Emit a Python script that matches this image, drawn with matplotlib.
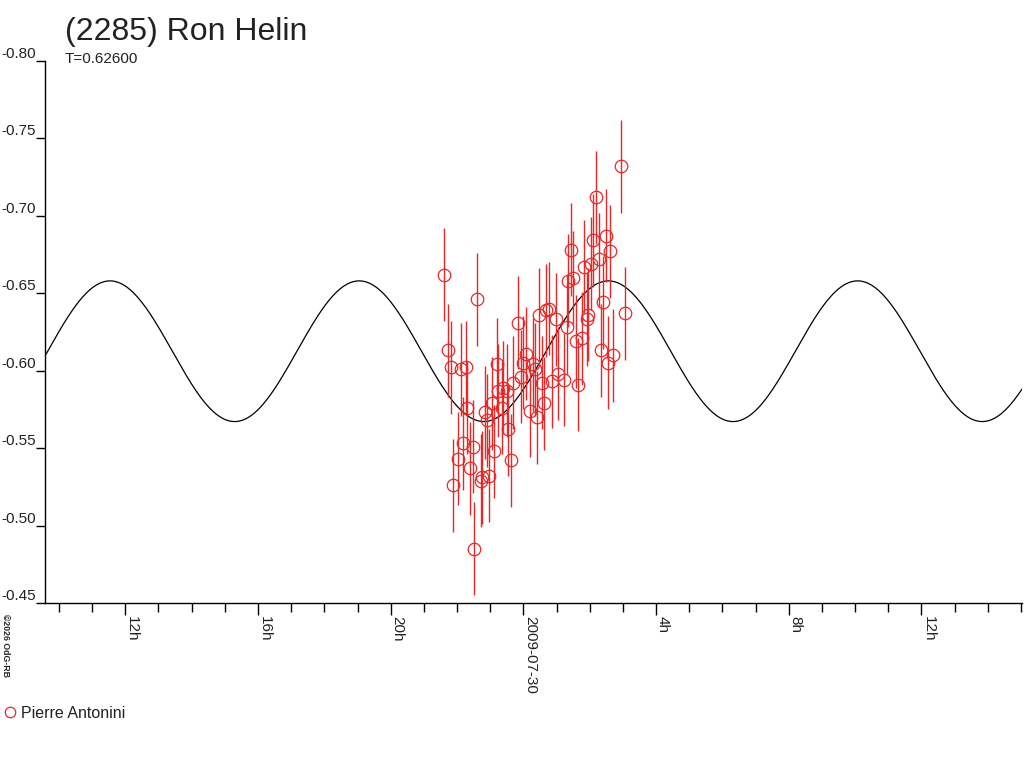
import numpy as np
import matplotlib
matplotlib.use("Agg")
import matplotlib.pyplot as plt
from matplotlib.ticker import FixedLocator, FixedFormatter, MultipleLocator
from matplotlib.lines import Line2D

plt.rcParams['font.family'] = ['Liberation Sans', 'DejaVu Sans']
plt.rcParams['axes.unicode_minus'] = False

# ---- data (hours relative to 2009-07-30 00:00 UT, relative magnitude) ----
obs_hours = [-2.394, -2.264, -2.192, -2.113, -1.981, -1.890, -1.812, -1.740, -1.691, -1.610,
             -1.528, -1.480, -1.390, -1.287, -1.239, -1.158, -1.097, -1.037, -0.956, -0.877,
             -0.787, -0.757, -0.654, -0.606, -0.485, -0.455, -0.374, -0.304, -0.154, -0.072,
             -0.003, 0.069, 0.199, 0.298, 0.350, 0.419, 0.479, 0.570, 0.621, 0.681,
             0.781, 0.853, 0.983, 1.052, 1.233, 1.305, 1.360, 1.444, 1.504, 1.586,
             1.655, 1.758, 1.827, 1.908, 1.957, 2.038, 2.107, 2.180, 2.279, 2.339,
             2.409, 2.490, 2.560, 2.611, 2.692, 2.942, 3.072]
obs_mag = [-0.662, -0.613, -0.602, -0.526, -0.543, -0.601, -0.553, -0.602, -0.576, -0.537,
           -0.551, -0.485, -0.646, -0.529, -0.531, -0.573, -0.568, -0.532, -0.579, -0.548,
           -0.604, -0.587, -0.576, -0.589, -0.587, -0.562, -0.542, -0.592, -0.631, -0.596,
           -0.605, -0.611, -0.574, -0.604, -0.601, -0.570, -0.636, -0.592, -0.579, -0.639,
           -0.640, -0.593, -0.633, -0.598, -0.594, -0.628, -0.658, -0.678, -0.660, -0.619,
           -0.591, -0.621, -0.667, -0.633, -0.636, -0.669, -0.684, -0.712, -0.672, -0.613,
           -0.644, -0.687, -0.605, -0.677, -0.610, -0.732, -0.637]
obs_err = [0.030] * len(obs_mag)

# fitted lightcurve model (T = 0.626 d, double-peaked -> half-period sine)
period_days = 0.62600
model_mean = -0.6125
model_amp = 0.0454
model_peak_hour = -12.46

x_major = [-12, -8, -4, 0, 4, 8, 12]
x_major_labels = ["12h", "16h", "20h", "2009-07-30", "4h", "8h", "12h"]
y_ticks = [-0.80, -0.75, -0.70, -0.65, -0.60, -0.55, -0.50, -0.45]
y_labels = ["-0.80", "-0.75", "-0.70", "-0.65", "-0.60", "-0.55", "-0.50", "-0.45"]
observer = "Pierre Antonini"

W, H = 1024, 768
fig = plt.figure(figsize=(W / 100, H / 100), dpi=100)
ax = fig.add_axes([45 / W, 1 - 603 / H, (1022 - 45) / W, (603 - 60.7) / H])

red = '#e62828'
txt = '#222222'
xmin, xmax = -14.42, 15.03
P = period_days * 24 / 2
tt = np.linspace(xmin, xmax, 1500)
curve = model_mean - model_amp * np.cos(2 * np.pi * (tt - model_peak_hour) / P)
ax.plot(tt, curve, color='black', lw=0.9, zorder=2)

ax.errorbar(obs_hours, obs_mag, yerr=obs_err, fmt='none', ecolor=red,
            elinewidth=1.0, capsize=0, zorder=3)
ax.plot(obs_hours, obs_mag, 'o', mfc='none', mec=red, ms=9, mew=0.9,
        ls='none', zorder=4)

ax.set_xlim(xmin, xmax)
ax.set_ylim(-0.45, -0.80)

for s in ['top', 'right']:
    ax.spines[s].set_visible(False)
for s in ['left', 'bottom']:
    ax.spines[s].set_linewidth(1.0)
    ax.spines[s].set_color('black')

ax.xaxis.set_major_locator(FixedLocator(x_major))
ax.xaxis.set_major_formatter(FixedFormatter(x_major_labels))
ax.xaxis.set_minor_locator(MultipleLocator(1))
ax.tick_params(axis='x', which='major', direction='out', length=8.6, width=1,
               pad=1, labelsize=11, labelcolor=txt)
ax.tick_params(axis='x', which='minor', direction='out', length=6.5, width=1)
for lab in ax.get_xticklabels():
    lab.set_rotation(-90)
    lab.set_ha('left')
    lab.set_va('top')

ax.yaxis.set_major_locator(FixedLocator(y_ticks))
ax.yaxis.set_major_formatter(FixedFormatter(y_labels))
ax.tick_params(axis='y', which='major', direction='out', length=6.5, width=1,
               pad=0, labelsize=11, labelcolor=txt)
for lab in ax.get_yticklabels():
    lab.set_va('bottom')

fig.text(65 / W, 1 - 40 / H, "(2285) Ron Helin", fontsize=23, ha='left',
         va='baseline', color=txt)
fig.text(65 / W, 1 - 63 / H, "T=0.62600", fontsize=11, ha='left', va='baseline',
         color=txt)
fig.text(1 / W, 1 - 614 / H, "\u00a92026 OdG-RB", fontsize=6.3, rotation=-90,
         ha='left', va='top', fontweight='bold', color=txt)

handle = Line2D([], [], marker='o', mfc='none', mec=red, ms=7.5, mew=0.9, ls='none')
fig.legend([handle], [observer], loc='upper left',
           bbox_to_anchor=(5 / W, 1 - 706 / H), frameon=False, fontsize=11.5,
           handlelength=0.6, handletextpad=0.4, borderpad=0, borderaxespad=0,
           labelcolor=txt)

fig.savefig("out.png", dpi=100)
